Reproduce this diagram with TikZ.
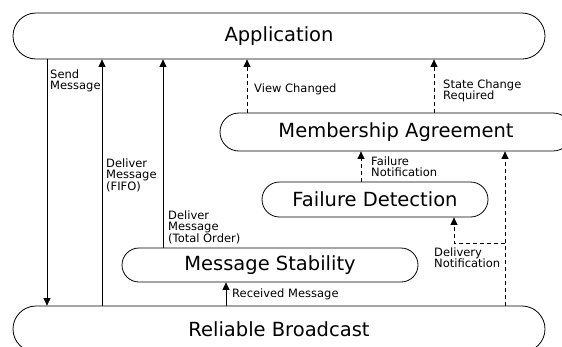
\documentclass[tikz,border=0pt]{standalone}
\usepackage{fontspec}
\setmainfont{DejaVu Sans}
\usetikzlibrary{arrows.meta, positioning}

\begin{document}
\begin{tikzpicture}[
    x=1pt, y=-1pt,
    block/.style={draw, line width=0.8pt, inner sep=0pt, font=\fontsize{19.5}{22}\selectfont},
    lbl/.style={anchor=west, align=left, inner sep=0pt, font=\fontsize{11.5}{11.4}\selectfont},
    flow/.style={-{Triangle[length=7.5pt, width=7pt]}, line width=0.8pt},
    notify/.style={flow, dash pattern=on 4pt off 3pt}
]
    \path[use as bounding box, fill=white] (0,0) rectangle (562,346);
    \clip (0,0) rectangle (562,346);

    \node[block, rounded corners=23pt, minimum width=532pt, minimum height=46pt] (app) at (279,36) {Application};
    \node[block, rounded corners=19pt, minimum width=352pt, minimum height=38pt] (member) at (396,132) {Membership Agreement};
    \node[block, rounded corners=17.5pt, minimum width=226pt, minimum height=35pt] (fail) at (375,199.5) {Failure Detection};
    \node[block, rounded corners=17pt, minimum width=296pt, minimum height=34pt] (stab) at (270,265) {Message Stability};
    \node[block, rounded corners=23pt, minimum width=532pt, minimum height=46pt] (rbcast) at (279,329) {Reliable Broadcast};

    \draw[flow] (app.south -| 47,0) -- (rbcast.north -| 47,0);
    \draw[flow] (rbcast.north -| 102,0) -- (app.south -| 102,0);
    \draw[flow] (stab.north -| 163,0) -- (app.south -| 163,0);
    \draw[flow] (rbcast.north -| 226,0) -- (stab.south -| 226,0);
    \draw[notify] (member.north -| 247,0) -- (app.south -| 247,0);
    \draw[notify] (member.north -| 434,0) -- (app.south -| 434,0);
    \draw[notify] (fail.north -| 361,0) -- (member.south -| 361,0);
    \draw[notify] (rbcast.north -| 505,0) -- (member.south -| 505,0);
    \coordinate (split) at (505,243);
    \draw[notify] (split) -| (fail.south -| 454,0);

    \node[lbl] (sendlbl) at (50,81) {Send\\Message};
    \node[lbl] (fifolbl) at (106,175) {Deliver\\Message\\(FIFO)};
    \node[lbl] (totallbl) at (168,227) {Deliver\\Message\\(Total Order)};
    \node[lbl] (recvlbl) at (232,294) {Received Message};
    \node[lbl] (viewlbl) at (254,89) {View Changed};
    \node[lbl] (statelbl) at (443,91) {State Change\\Required};
    \node[lbl] (faillbl) at (371,167) {Failure\\Notification};
    \node[lbl] (delivlbl) at (434,258) {Delivery\\Notification};
\end{tikzpicture}
\end{document}
